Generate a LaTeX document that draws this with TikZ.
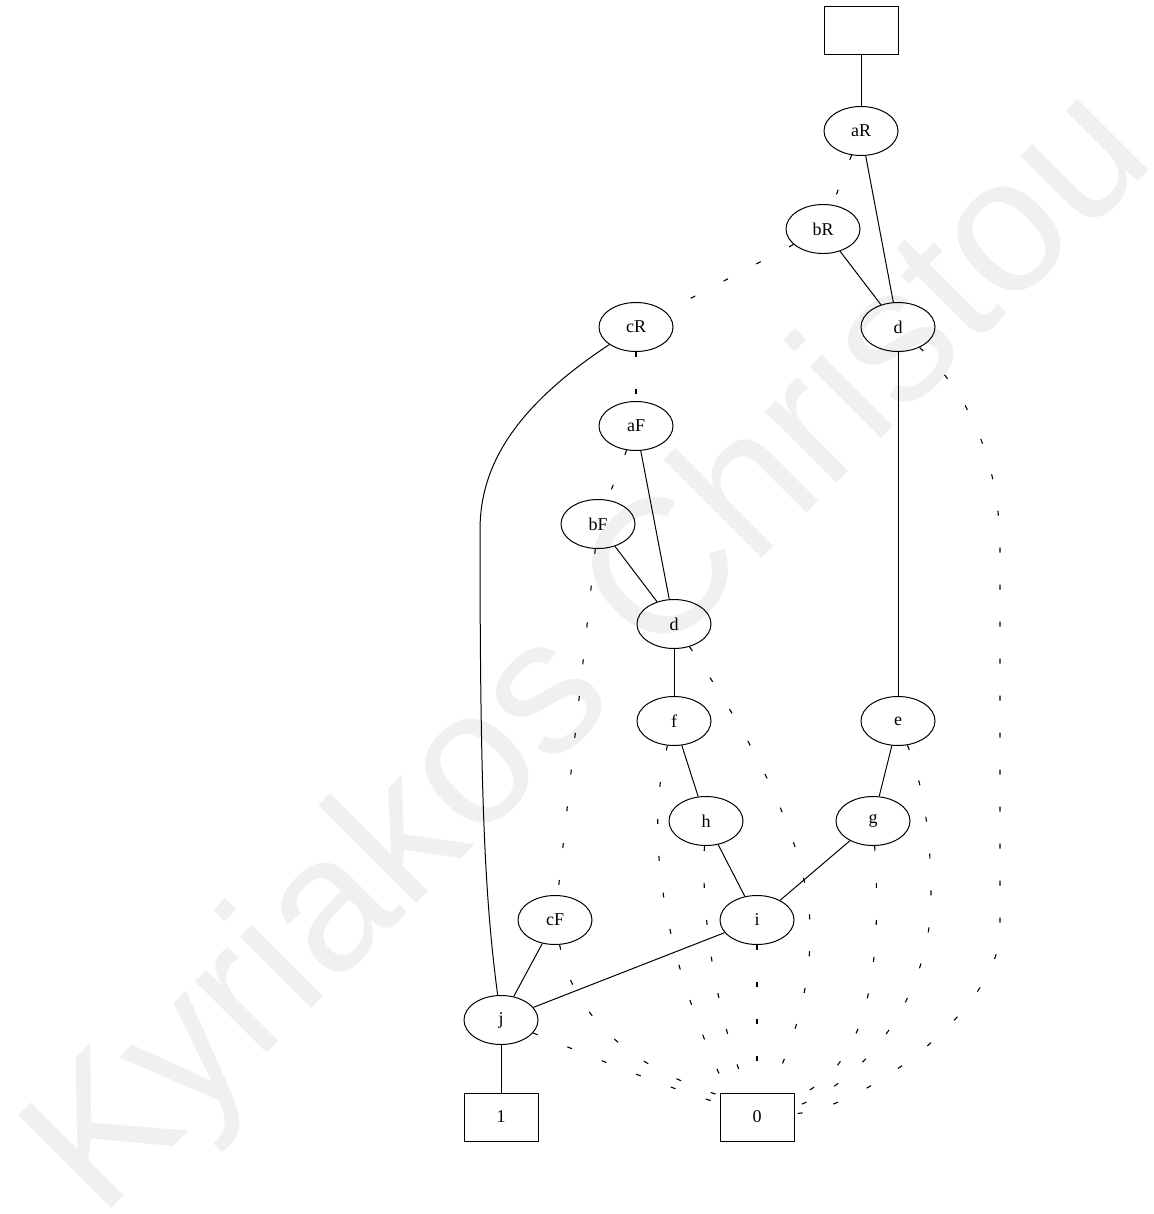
\documentclass[tikz,border=0pt]{standalone}
\usepackage{fontspec}
\setmainfont{Liberation Serif}
\newfontfamily\wmfont{Liberation Sans}
\usetikzlibrary{shapes.geometric,calc}
\begin{document}
\begin{tikzpicture}[x=1pt,y=-1pt,
  bn/.style={draw,ellipse,minimum width=74pt,minimum height=49pt,inner sep=0pt,line width=1pt,font=\fontsize{18}{18}\selectfont},
  tn/.style={draw,rectangle,minimum width=74pt,minimum height=48pt,inner sep=0pt,line width=1pt,font=\fontsize{18}{18}\selectfont},
  hi/.style={line width=1pt},
  lo/.style={line width=1.1pt,dash pattern=on 5pt off 32pt}]
\useasboundingbox (0,0) rectangle (1153,1214);
\node[rotate=45,anchor=base west,inner sep=0pt,text=black!6,font=\wmfont\fontsize{191}{191}\selectfont] (wm) at (100,1220) {Kyriakos Christou};
% nodes
\node[tn] (top) at (861,31) {};
\node[bn] (aR) at (861,131) {aR};
\node[bn] (bR) at (823,229) {bR};
\node[bn] (cR) at (636,327) {cR};
\node[bn] (dR) at (898,327) {d};
\node[bn] (aF) at (636,426) {aF};
\node[bn] (bF) at (598,524) {bF};
\node[bn] (dM) at (674,624) {d};
\node[bn] (f) at (674,721) {f};
\node[bn] (e) at (898,721) {e};
\node[bn] (h) at (706,821) {h};
\node[bn] (g) at (873,821) {g};
\node[bn] (cF) at (555,920) {cF};
\node[bn] (i) at (757,920) {i};
\node[bn] (j) at (501,1020) {j};
\node[tn] (one) at (501,1117) {1};
\node[tn] (zero) at (757,1117) {0};
% solid edges
\draw[hi] (top) -- (aR);
\draw[hi] (aR) -- (dR);
\draw[hi] (bR) -- (dR);
\draw[hi] (cR) .. controls (510,410) and (480,470) .. (480,530) .. controls (480,800) and (485,900) .. (j);
\draw[hi] (dR) -- (e);
\draw[hi] (aF) -- (dM);
\draw[hi] (bF) -- (dM);
\draw[hi] (dM) -- (f);
\draw[hi] (f) -- (h);
\draw[hi] (e) -- (g);
\draw[hi] (h) -- (i);
\draw[hi] (g) -- (i);
\draw[hi] (i) -- (j);
\draw[hi] (cF) -- (j);
\draw[hi] (j) -- (one);
% dashed edges
\draw[lo] (aR) -- (bR);
\draw[lo] (bR) -- (cR);
\draw[lo] (cR) -- (aF);
\draw[lo] (aF) -- (bF);
\draw[lo] (bF) -- (cF);
\draw[lo] (dR) .. controls (975,400) and (1000,470) .. (1000,550) -- (1000,930) .. controls (1000,1010) and (860,1110) .. (zero.5);
\draw[lo] (dM) .. controls (760,750) and (808,850) .. (810,925) .. controls (812,1000) and (785,1060) .. (zero.63);
\draw[lo] (f) .. controls (645,830) and (660,950) .. (zero.140);
\draw[lo] (h) .. controls (700,920) and (720,1030) .. (zero.110);
\draw[lo] (i) -- (zero);
\draw[lo] (g) .. controls (884,990) and (860,1070) .. (zero.27);
\draw[lo] (e) .. controls (925,790) and (931,840) .. (931,898) .. controls (931,990) and (870,1080) .. (zero.15);
\draw[lo] (cF) .. controls (570,1000) and (610,1060) .. (zero.150);
\draw[lo] (j) .. controls (600,1060) and (660,1085) .. (zero.160);
\end{tikzpicture}
\end{document}
